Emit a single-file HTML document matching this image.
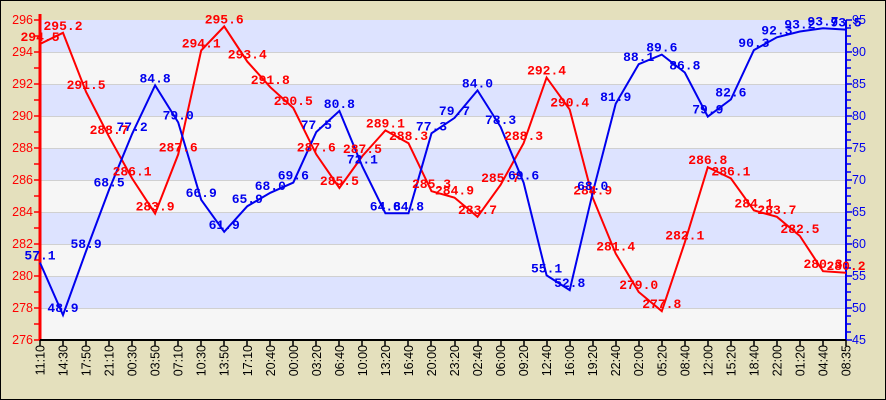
<!DOCTYPE html>
<html><head><meta charset="utf-8"><style>
html,body{margin:0;padding:0;background:#e4e0bd}
svg{display:block}
.r{fill:#ff0000}.b{fill:#0000ee}
.lab text{font-family:"Liberation Mono",monospace;font-weight:bold;font-size:13px;text-anchor:middle}
</style></head><body>
<svg id="s" width="886" height="400" xmlns="http://www.w3.org/2000/svg">
<rect x="0.5" y="0.5" width="885" height="399" fill="#e4e0bd" stroke="#000"/>
<g id="bands"></g>
<g id="axes"></g>
<polyline id="pr" fill="none" stroke="#ff0000" stroke-width="2"/>
<polyline id="pb" fill="none" stroke="#0000ee" stroke-width="2"/>
<g class="lab" id="lr">
<text class="r">294.5</text><text class="r">295.2</text><text class="r">291.5</text><text class="r">288.7</text><text class="r">286.1</text><text class="r">283.9</text><text class="r">287.6</text><text class="r">294.1</text><text class="r">295.6</text><text class="r">293.4</text><text class="r">291.8</text><text class="r">290.5</text><text class="r">287.6</text><text class="r">285.5</text><text class="r">287.5</text><text class="r">289.1</text><text class="r">288.3</text><text class="r">285.3</text><text class="r">284.9</text><text class="r">283.7</text><text class="r">285.7</text><text class="r">288.3</text><text class="r">292.4</text><text class="r">290.4</text><text class="r">284.9</text><text class="r">281.4</text><text class="r">279.0</text><text class="r">277.8</text><text class="r">282.1</text><text class="r">286.8</text><text class="r">286.1</text><text class="r">284.1</text><text class="r">283.7</text><text class="r">282.5</text><text class="r">280.3</text><text class="r">280.2</text>
</g>
<g class="lab" id="lb">
<text class="b">57.1</text><text class="b">48.9</text><text class="b">58.9</text><text class="b">68.5</text><text class="b">77.2</text><text class="b">84.8</text><text class="b">79.0</text><text class="b">66.9</text><text class="b">61.9</text><text class="b">65.9</text><text class="b">68.0</text><text class="b">69.6</text><text class="b">77.5</text><text class="b">80.8</text><text class="b">72.1</text><text class="b">64.8</text><text class="b">64.8</text><text class="b">77.3</text><text class="b">79.7</text><text class="b">84.0</text><text class="b">78.3</text><text class="b">69.6</text><text class="b">55.1</text><text class="b">52.8</text><text class="b">68.0</text><text class="b">81.9</text><text class="b">88.1</text><text class="b">89.6</text><text class="b">86.8</text><text class="b">79.9</text><text class="b">82.6</text><text class="b">90.3</text><text class="b">92.3</text><text class="b">93.2</text><text class="b">93.7</text><text class="b">93.5</text>
</g>
<g id="yl" font-family="Liberation Sans,sans-serif" font-size="12.5">
<text fill="#f00" text-anchor="end" x="33" y="24">296</text><text fill="#f00" text-anchor="end" x="33" y="56">294</text><text fill="#f00" text-anchor="end" x="33" y="88">292</text><text fill="#f00" text-anchor="end" x="33" y="120">290</text><text fill="#f00" text-anchor="end" x="33" y="152">288</text><text fill="#f00" text-anchor="end" x="33" y="184">286</text><text fill="#f00" text-anchor="end" x="33" y="216">284</text><text fill="#f00" text-anchor="end" x="33" y="248">282</text><text fill="#f00" text-anchor="end" x="33" y="280">280</text><text fill="#f00" text-anchor="end" x="33" y="312">278</text><text fill="#f00" text-anchor="end" x="33" y="344">276</text>
<text fill="#00e" x="852" y="24">95</text><text fill="#00e" x="852" y="56">90</text><text fill="#00e" x="852" y="88">85</text><text fill="#00e" x="852" y="120">80</text><text fill="#00e" x="852" y="152">75</text><text fill="#00e" x="852" y="184">70</text><text fill="#00e" x="852" y="216">65</text><text fill="#00e" x="852" y="248">60</text><text fill="#00e" x="852" y="280">55</text><text fill="#00e" x="852" y="312">50</text><text fill="#00e" x="852" y="344">45</text>
</g>
<g id="xl" font-family="Liberation Sans,sans-serif" font-size="12.5" fill="#000" text-anchor="end">
<text>11:10</text><text>14:30</text><text>17:50</text><text>21:10</text><text>00:30</text><text>03:50</text><text>07:10</text><text>10:30</text><text>13:50</text><text>17:10</text><text>20:40</text><text>00:00</text><text>03:20</text><text>06:40</text><text>10:00</text><text>13:20</text><text>16:40</text><text>20:00</text><text>23:20</text><text>02:40</text><text>06:00</text><text>09:20</text><text>12:40</text><text>16:00</text><text>19:20</text><text>22:40</text><text>02:00</text><text>05:20</text><text>08:40</text><text>12:00</text><text>15:20</text><text>18:40</text><text>22:00</text><text>01:20</text><text>04:40</text><text>08:35</text>
</g>
</svg>
<script>
var NS="http://www.w3.org/2000/svg",L=40,R=846,T=20,B=340,N=36,dx=(R-L)/35;
function el(p,t,a){var e=document.createElementNS(NS,t);for(var k in a)e.setAttribute(k,a[k]);p.appendChild(e);return e;}
var bands=document.getElementById('bands'),ax=document.getElementById('axes');
for(var i=0;i<10;i++){el(bands,'rect',{x:L,y:T+i*32,width:R-L,height:32,fill:i%2==0?'#dde3ff':'#f6f6f6'});}
for(var i=1;i<10;i++)el(bands,'line',{x1:L,x2:R,y1:T+i*32+.5,y2:T+i*32+.5,stroke:'#d0d0d0'});
el(ax,'line',{x1:L,x2:L,y1:T-6,y2:B,stroke:'#f00','stroke-width':3});
el(ax,'line',{x1:R,x2:R,y1:T,y2:B,stroke:'#00e','stroke-width':2});
el(ax,'line',{x1:L,x2:R,y1:B,y2:B,stroke:'#000','stroke-width':2});
for(var i=0;i<=20;i++){var y=T+i*16;el(ax,'line',{x1:L-6,x2:L,y1:y,y2:y,stroke:'#f00','stroke-width':1.5});}
for(var i=0;i<=40;i++){var y=T+i*8;el(ax,'line',{x1:R,x2:R+(i%4==0?6:5),y1:y,y2:y,stroke:'#00e','stroke-width':1.5});}
for(var i=0;i<N;i++){var x=Math.round(L+i*dx);el(ax,'line',{x1:x,x2:x,y1:B,y2:B+6,stroke:'#000','stroke-width':1.5});}
function place(id,pid,f){var ts=document.getElementById(id).children,pts=[];
for(var i=0;i<ts.length;i++){var v=parseFloat(ts[i].textContent),x=L+i*dx,y=f(v);pts.push(x.toFixed(1)+','+y.toFixed(1));ts[i].setAttribute('x',x.toFixed(1));ts[i].setAttribute('y',(y-3).toFixed(1));}
document.getElementById(pid).setAttribute('points',pts.join(' '));}
place('lr','pr',function(v){return B-(v-276)*16;});
place('lb','pb',function(v){return B-(v-45)*6.4;});
var xs=document.getElementById('xl').children;
for(var i=0;i<xs.length;i++){var x=L+i*dx+4.5;xs[i].setAttribute('transform','translate('+x.toFixed(1)+',345) rotate(-90)');}
</script>
</body></html>
